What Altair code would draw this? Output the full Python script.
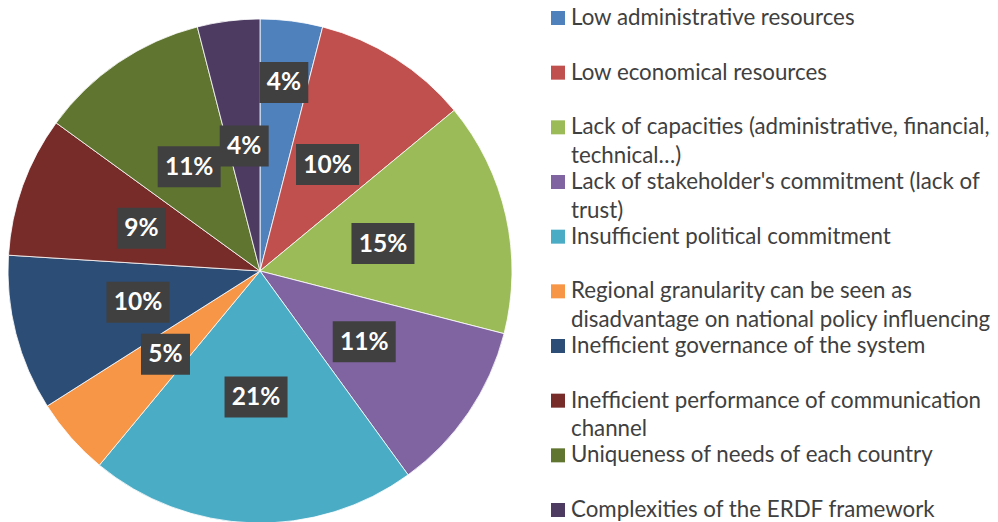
import altair as alt
import pandas as pd

categories = [
    "Low administrative resources",
    "Low economical resources",
    "Lack of capacities (administrative, financial,\ntechnical…)",
    "Lack of stakeholder's commitment (lack of\ntrust)",
    "Insufficient political commitment",
    "Regional granularity can be seen as\ndisadvantage on national policy influencing",
    "Inefficient governance of the system",
    "Inefficient performance of communication\nchannel",
    "Uniqueness of needs of each country",
    "Complexities of the ERDF framework",
]
values = [4, 10, 15, 11, 21, 5, 10, 9, 11, 4]
colors = ["#4F81BD", "#C0504D", "#9BBB59", "#8064A2", "#4BACC6",
          "#F79646", "#2C4D75", "#772C2A", "#5F7530", "#4D3B62"]

df = pd.DataFrame({
    "category": categories,
    "value": values,
    "idx": list(range(len(values))),
    "label": [f"{v}%" for v in values],
})

# layout (style, not data)
CX, CY, R = 260, 271, 252
LR = R / 2
OUT_R = 190  # Excel pushed the first small label outward

color_scale = alt.Scale(domain=categories, range=colors)
base = alt.Chart(df)

pie = base.mark_arc(outerRadius=R, stroke="#ffffff", strokeWidth=0.8).encode(
    theta=alt.Theta("value:Q", stack=True),
    color=alt.Color("category:N", scale=color_scale, legend=None),
    order=alt.Order("idx:Q"),
    x=alt.value(CX),
    y=alt.value(CY),
)

lab = (
    base.transform_window(cum="sum(value)", sort=[alt.SortField("idx")], frame=[None, 0])
    .transform_joinaggregate(total="sum(value)")
    .transform_calculate(mid="(datum.cum - datum.value/2) / datum.total * 2 * PI")
    .transform_calculate(lr=f"datum.idx == 0 ? {OUT_R} : {LR}")
    .transform_calculate(
        lx=f"{CX} + datum.lr * sin(datum.mid)",
        ly=f"{CY} - datum.lr * cos(datum.mid)",
        hw="length(datum.label) > 2 ? 31.5 : 24.5",
    )
    .transform_calculate(
        bx1="datum.lx - datum.hw", bx2="datum.lx + datum.hw",
        by1="datum.ly - 20.5", by2="datum.ly + 20.5",
    )
)

boxes = lab.mark_rect(color="#404040").encode(
    x=alt.X("bx1:Q", scale=None, axis=None),
    x2="bx2:Q",
    y=alt.Y("by1:Q", scale=None, axis=None),
    y2="by2:Q",
)
texts = lab.mark_text(font="Lato", fontWeight="bold", fontSize=24.5, color="#ffffff", dy=1).encode(
    x=alt.X("lx:Q", scale=None, axis=None),
    y=alt.Y("ly:Q", scale=None, axis=None),
    text="label:N",
)

ly = alt.Y("category:N", scale=alt.Scale(type="point", domain=categories, range=[18, 510], padding=0), axis=None)
swatches = base.mark_square(size=196, opacity=1).encode(
    x=alt.value(558),
    y=ly,
    color=alt.Color("category:N", scale=color_scale, legend=None),
)
legend_text = base.mark_text(
    align="left", baseline="middle", font="Lato", fontSize=22.3, color="#404040",
    lineBreak="\n", lineHeight=28.5,
).encode(
    x=alt.value(571),
    y=ly,
    text="category:N",
)

chart = (
    alt.layer(pie, boxes, texts, swatches, legend_text)
    .resolve_scale(x="independent", y="independent")
    .properties(width=998, height=522, autosize=alt.AutoSizeParams(type="none"), padding=0)
    .configure_view(stroke=None)
)

chart.save("out.html", embed_options={"renderer": "svg", "actions": False})
